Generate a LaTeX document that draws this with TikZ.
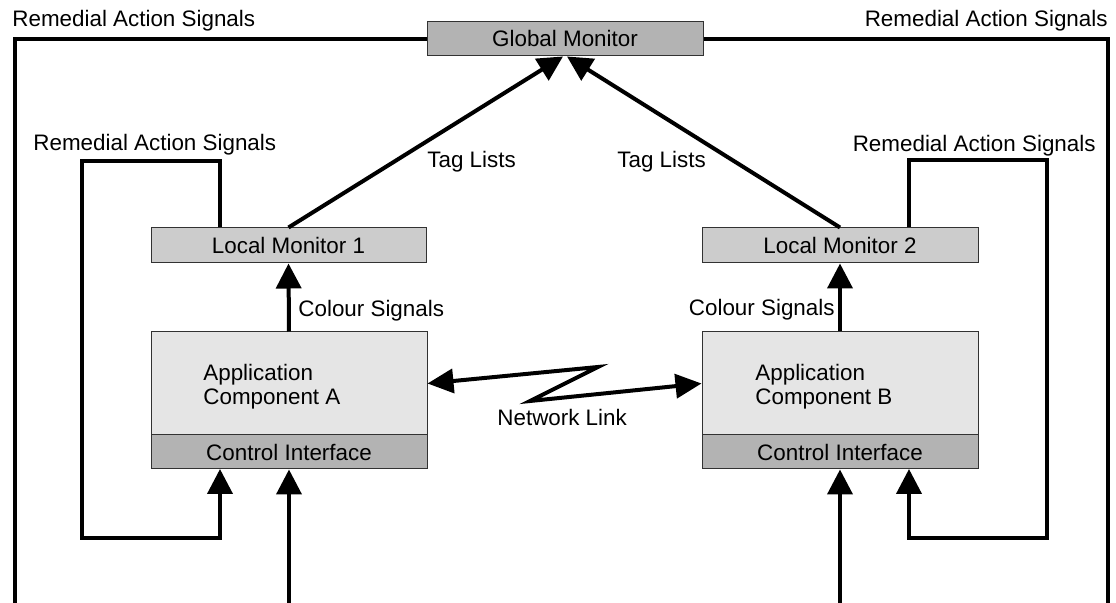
\documentclass[tikz,border=0pt]{standalone}
\usepackage{fontspec}
\setmainfont{Liberation Sans}
\usetikzlibrary{arrows.meta}
\definecolor{gmgray}{RGB}{179,179,179}
\definecolor{lmgray}{RGB}{204,204,204}
\definecolor{appgray}{RGB}{229,229,229}
\definecolor{cigray}{RGB}{179,179,179}
\definecolor{edgegray}{RGB}{50,50,50}
\tikzset{
  wire/.style={line width=2pt},
  arr/.style={wire,-{Triangle[length=12.5pt,width=12.5pt]}},
  dblarr/.style={wire,{Triangle[length=13pt,width=12pt]}-{Triangle[length=13pt,width=12pt]}},
  box/.style={draw=edgegray,line width=0.5pt,inner sep=0pt,minimum width=138pt},
  lbl/.style={inner sep=0pt}
}
\begin{document}
\begin{tikzpicture}[x=0.5pt,y=-0.5pt,font=\fontsize{11.2}{12}\selectfont]
\useasboundingbox (0,0) rectangle (1116,603);

% monitors
\node[box,fill=gmgray,minimum height=17pt] (gm) at (565,39) {Global Monitor};
\node[box,fill=lmgray,minimum height=17.5pt,minimum width=137.5pt] (lm1) at (288.5,245.5) {Local Monitor 1};
\node[box,fill=lmgray,minimum height=17.5pt] (lm2) at (840,245.5) {Local Monitor 2};

% application components with their control interfaces
\node[box,fill=appgray,minimum height=51.5pt] (appA) at (289,383.5) {};
\node[box,fill=cigray,minimum height=17pt] (ciA) at (289,452) {Control Interface};
\node[box,fill=appgray,minimum height=51.5pt] (appB) at (840,383.5) {};
\node[box,fill=cigray,minimum height=17pt] (ciB) at (840,452) {Control Interface};
\node[lbl,anchor=west,align=left] (txtA) at (203,387) {Application\\Component A};
\node[lbl,anchor=west,align=left] (txtB) at (755,387) {Application\\Component B};

% outer remedial loop from the global monitor
\coordinate (oTL) at (15,39);
\coordinate (oBL) at (15,603);
\coordinate (oTR) at (1108,39);
\coordinate (oBR) at (1108,603);
\draw[wire] (gm.west) -- (oTL) -- (oBL);
\draw[wire] (gm.east) -- (oTR) -- (oBR);

% tag lists to the global monitor
\draw[arr] (lm1.north) -- ([xshift=-1pt]gm.south);
\draw[arr] (lm2.north) -- ([xshift=1pt]gm.south);

% colour signals
\draw[arr] (appA.north) -- (lm1.south);
\draw[arr] (appB.north) -- (lm2.south);

% local remedial loops
\coordinate (lTop) at (220,161);
\coordinate (lCor) at (82,161);
\coordinate (lBot) at (82,538);
\coordinate (lIn) at (220,469);
\draw[arr] (lTop |- lm1.north) -- (lTop) -- (lCor) -- (lBot) -- (lBot -| lIn) -- (lIn);
\coordinate (rTop) at (909,160);
\coordinate (rCor) at (1047,160);
\coordinate (rBot) at (1047,538);
\coordinate (rIn) at (909,469);
\draw[arr] (rTop |- lm2.north) -- (rTop) -- (rCor) -- (rBot) -- (rBot -| rIn) -- (rIn);

% external inputs
\coordinate (inA) at (289,603);
\coordinate (inB) at (840,603);
\draw[arr] (inA) -- (ciA.south);
\draw[arr] (inB) -- (ciB.south);

% network link
\coordinate (z1) at (598,367);
\coordinate (z2) at (530,401);
\draw[dblarr] (appA.east) -- (z1) -- (z2) -- (appB.west);

% labels
\node[lbl,anchor=base west] (rasTL) at (12,27) {Remedial Action Signals};
\node[lbl,anchor=base east] (rasTR) at (1108,27) {Remedial Action Signals};
\node[lbl,anchor=base west] (rasML) at (33,151) {Remedial Action Signals};
\node[lbl,anchor=base east] (rasMR) at (1096,152) {Remedial Action Signals};
\node[lbl,anchor=base west] (tagL) at (427,168) {Tag Lists};
\node[lbl,anchor=base west] (tagR) at (617,168) {Tag Lists};
\node[lbl,anchor=base west] (colL) at (298,317) {Colour Signals};
\node[lbl,anchor=base east] (colR) at (835,316) {Colour Signals};
\node[lbl,anchor=base west] (net) at (497,426) {Network Link};
\end{tikzpicture}
\end{document}
